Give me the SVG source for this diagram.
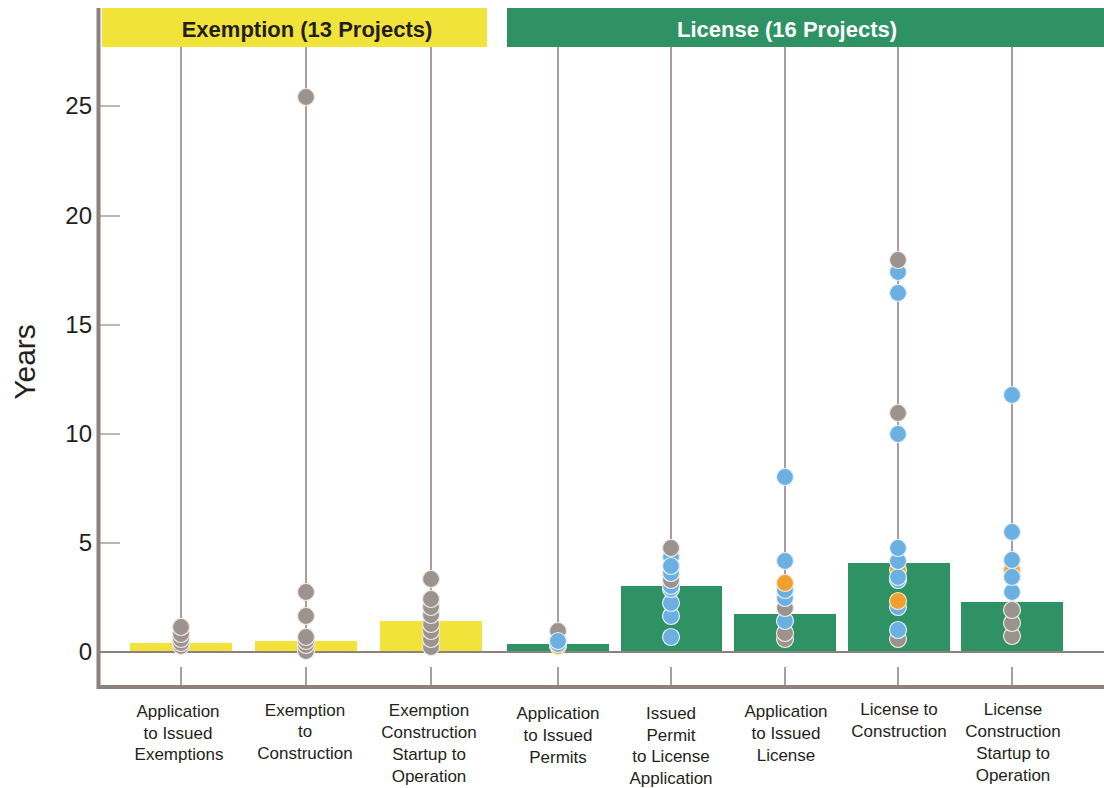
<svg xmlns="http://www.w3.org/2000/svg" width="1104" height="788" viewBox="0 0 1104 788">
<style>
.ax{stroke:#8c817d;fill:none}
.vl{stroke:#a8a09c;stroke-width:2}
.tk{stroke:#a8a09c;stroke-width:1.5}
.yb{fill:#f2e33a}
.gb{fill:#2e9265}
.g{fill:#9c928e;stroke:#ece8e4;stroke-width:1.2}
.b{fill:#6cb0e2;stroke:#e4eef6;stroke-width:1.2}
.o{fill:#f0a02c;stroke:#f6e6cc;stroke-width:1.2}
.yl{font-family:"Liberation Sans",Arial,sans-serif;font-size:24px;fill:#231f20;text-anchor:end}
.cl{font-family:"Liberation Sans",Arial,sans-serif;font-size:17px;fill:#231f20;text-anchor:middle}
.hd{font-family:"Liberation Sans",Arial,sans-serif;font-size:22px;font-weight:bold;text-anchor:middle}
</style>
<rect width="1104" height="788" fill="#ffffff"/>
<g id="headers">
<rect x="102" y="8" width="385" height="39" fill="#f2e33a"/>
<text class="hd" x="307" y="37" fill="#231f20">Exemption (13 Projects)</text>
<rect x="507" y="8" width="597" height="39" fill="#2e9265"/>
<text class="hd" x="787" y="37" fill="#ffffff">License (16 Projects)</text>
</g>
<g id="axes">
<line class="tk" x1="100" y1="106" x2="120" y2="106"/>
<line class="tk" x1="100" y1="216" x2="120" y2="216"/>
<line class="tk" x1="100" y1="325" x2="120" y2="325"/>
<line class="tk" x1="100" y1="434" x2="120" y2="434"/>
<line class="tk" x1="100" y1="543" x2="120" y2="543"/>
<text class="yl" x="92" y="114">25</text>
<text class="yl" x="92" y="224">20</text>
<text class="yl" x="92" y="333">15</text>
<text class="yl" x="92" y="442">10</text>
<text class="yl" x="92" y="551">5</text>
<text class="yl" x="92" y="660">0</text>
<text x="0" y="0" transform="translate(35,362) rotate(-90)" font-family="Liberation Sans,Arial,sans-serif" font-size="30" fill="#231f20" text-anchor="middle">Years</text>
</g>
<g id="columns">
<line class="vl" x1="181" y1="47" x2="181" y2="652"/>
<line class="vl" x1="306" y1="47" x2="306" y2="652"/>
<line class="vl" x1="431" y1="47" x2="431" y2="652"/>
<line class="vl" x1="558" y1="47" x2="558" y2="652"/>
<line class="vl" x1="671" y1="47" x2="671" y2="652"/>
<line class="vl" x1="785" y1="47" x2="785" y2="652"/>
<line class="vl" x1="898" y1="47" x2="898" y2="652"/>
<line class="vl" x1="1012" y1="47" x2="1012" y2="652"/>
<line class="vl" x1="181" y1="667" x2="181" y2="687"/>
<line class="vl" x1="306" y1="667" x2="306" y2="687"/>
<line class="vl" x1="431" y1="667" x2="431" y2="687"/>
<line class="vl" x1="558" y1="667" x2="558" y2="687"/>
<line class="vl" x1="671" y1="667" x2="671" y2="687"/>
<line class="vl" x1="785" y1="667" x2="785" y2="687"/>
<line class="vl" x1="898" y1="667" x2="898" y2="687"/>
<line class="vl" x1="1012" y1="667" x2="1012" y2="687"/>
</g>
<g id="bars">
<rect class="yb" x="130" y="643" width="102" height="9"/>
<rect class="yb" x="255" y="641" width="102" height="11"/>
<rect class="yb" x="380" y="621" width="102" height="31"/>
<rect class="gb" x="507" y="644" width="102" height="8"/>
<rect class="gb" x="621" y="586" width="101" height="66"/>
<rect class="gb" x="734" y="614" width="102" height="38"/>
<rect class="gb" x="848" y="563" width="102" height="89"/>
<rect class="gb" x="961" y="602" width="102" height="50"/>
</g>
<g id="frame">
<line class="ax" x1="100" y1="652" x2="1104" y2="652" stroke-width="2"/>
<line class="ax" x1="98.5" y1="8" x2="98.5" y2="689" stroke-width="4"/>
<line class="ax" x1="97" y1="687" x2="1104" y2="687" stroke-width="4"/>
</g>
<g id="dots-c1">
<circle class="g" cx="181" cy="646" r="8.5"/>
<circle class="g" cx="181" cy="643" r="8.5"/>
<circle class="g" cx="181" cy="639" r="8.5"/>
<circle class="g" cx="181" cy="634" r="8.5"/>
<circle class="g" cx="181" cy="627" r="8.5"/>
</g>
<g id="dots-c2">
<circle class="g" cx="306" cy="651" r="8.5"/>
<circle class="g" cx="306" cy="645" r="8.5"/>
<circle class="g" cx="306" cy="641" r="8.5"/>
<circle class="g" cx="306" cy="637" r="8.5"/>
<circle class="g" cx="306" cy="616" r="8.5"/>
<circle class="g" cx="306" cy="592" r="8.5"/>
<circle class="g" cx="306" cy="97" r="8.5"/>
</g>
<g id="dots-c3">
<circle class="g" cx="431" cy="647" r="8.5"/>
<circle class="g" cx="431" cy="639" r="8.5"/>
<circle class="g" cx="431" cy="631" r="8.5"/>
<circle class="g" cx="431" cy="624" r="8.5"/>
<circle class="g" cx="431" cy="615" r="8.5"/>
<circle class="g" cx="431" cy="607" r="8.5"/>
<circle class="g" cx="431" cy="599" r="8.5"/>
<circle class="g" cx="431" cy="579" r="8.5"/>
</g>
<g id="dots-c4">
<circle class="o" cx="558" cy="646" r="8.5"/>
<circle class="b" cx="558" cy="644" r="8.5"/>
<circle class="g" cx="558" cy="631" r="8.5"/>
<circle class="b" cx="558" cy="641" r="8.5"/>
</g>
<g id="dots-c5">
<circle class="b" cx="671" cy="637" r="8.5"/>
<circle class="b" cx="671" cy="616" r="8.5"/>
<circle class="b" cx="671" cy="603" r="8.5"/>
<circle class="b" cx="671" cy="589" r="8.5"/>
<circle class="b" cx="671" cy="586" r="8.5"/>
<circle class="g" cx="671" cy="580" r="8.5"/>
<circle class="b" cx="671" cy="573" r="8.5"/>
<circle class="b" cx="671" cy="557" r="8.5"/>
<circle class="b" cx="671" cy="566" r="8.5"/>
<circle class="g" cx="671" cy="548" r="8.5"/>
</g>
<g id="dots-c6">
<circle class="g" cx="785" cy="639" r="8.5"/>
<circle class="g" cx="785" cy="633" r="8.5"/>
<circle class="b" cx="785" cy="621" r="8.5"/>
<circle class="g" cx="785" cy="608" r="8.5"/>
<circle class="b" cx="785" cy="598" r="8.5"/>
<circle class="b" cx="785" cy="590" r="8.5"/>
<circle class="o" cx="785" cy="583" r="8.5"/>
<circle class="b" cx="785" cy="561" r="8.5"/>
<circle class="b" cx="785" cy="477" r="8.5"/>
</g>
<g id="dots-c7">
<circle class="g" cx="898" cy="639" r="8.5"/>
<circle class="b" cx="898" cy="630" r="8.5"/>
<circle class="b" cx="898" cy="607" r="8.5"/>
<circle class="o" cx="898" cy="601" r="8.5"/>
<circle class="b" cx="898" cy="580" r="8.5"/>
<circle class="o" cx="898" cy="570" r="8.5"/>
<circle class="b" cx="898" cy="577" r="8.5"/>
<circle class="b" cx="898" cy="561" r="8.5"/>
<circle class="b" cx="898" cy="548" r="8.5"/>
<circle class="b" cx="898" cy="434" r="8.5"/>
<circle class="g" cx="898" cy="413" r="8.5"/>
<circle class="b" cx="898" cy="293" r="8.5"/>
<circle class="b" cx="898" cy="272" r="8.5"/>
<circle class="g" cx="898" cy="260" r="8.5"/>
</g>
<g id="dots-c8">
<circle class="g" cx="1012" cy="636" r="8.5"/>
<circle class="g" cx="1012" cy="623" r="8.5"/>
<circle class="g" cx="1012" cy="610" r="8.5"/>
<circle class="b" cx="1012" cy="592" r="8.5"/>
<circle class="o" cx="1012" cy="570" r="8.5"/>
<circle class="b" cx="1012" cy="577" r="8.5"/>
<circle class="b" cx="1012" cy="560" r="8.5"/>
<circle class="b" cx="1012" cy="532" r="8.5"/>
<circle class="b" cx="1012" cy="395" r="8.5"/>
</g>
<g id="labels">
<text class="cl" x="178" y="717">Application</text>
<text class="cl" x="178" y="739">to Issued</text>
<text class="cl" x="179" y="760">Exemptions</text>
<text class="cl" x="305" y="716">Exemption</text>
<text class="cl" x="305" y="737">to</text>
<text class="cl" x="305" y="759">Construction</text>
<text class="cl" x="429" y="716">Exemption</text>
<text class="cl" x="429" y="738">Construction</text>
<text class="cl" x="429" y="760">Startup to</text>
<text class="cl" x="429" y="782">Operation</text>
<text class="cl" x="558" y="719">Application</text>
<text class="cl" x="558" y="741">to Issued</text>
<text class="cl" x="558" y="763">Permits</text>
<text class="cl" x="671" y="719">Issued</text>
<text class="cl" x="671" y="741">Permit</text>
<text class="cl" x="671" y="762">to License</text>
<text class="cl" x="671" y="784">Application</text>
<text class="cl" x="786" y="717">Application</text>
<text class="cl" x="786" y="739">to Issued</text>
<text class="cl" x="786" y="761">License</text>
<text class="cl" x="899" y="715">License to</text>
<text class="cl" x="899" y="737">Construction</text>
<text class="cl" x="1013" y="715">License</text>
<text class="cl" x="1013" y="737">Construction</text>
<text class="cl" x="1013" y="759">Startup to</text>
<text class="cl" x="1013" y="781">Operation</text>
</g>
</svg>
